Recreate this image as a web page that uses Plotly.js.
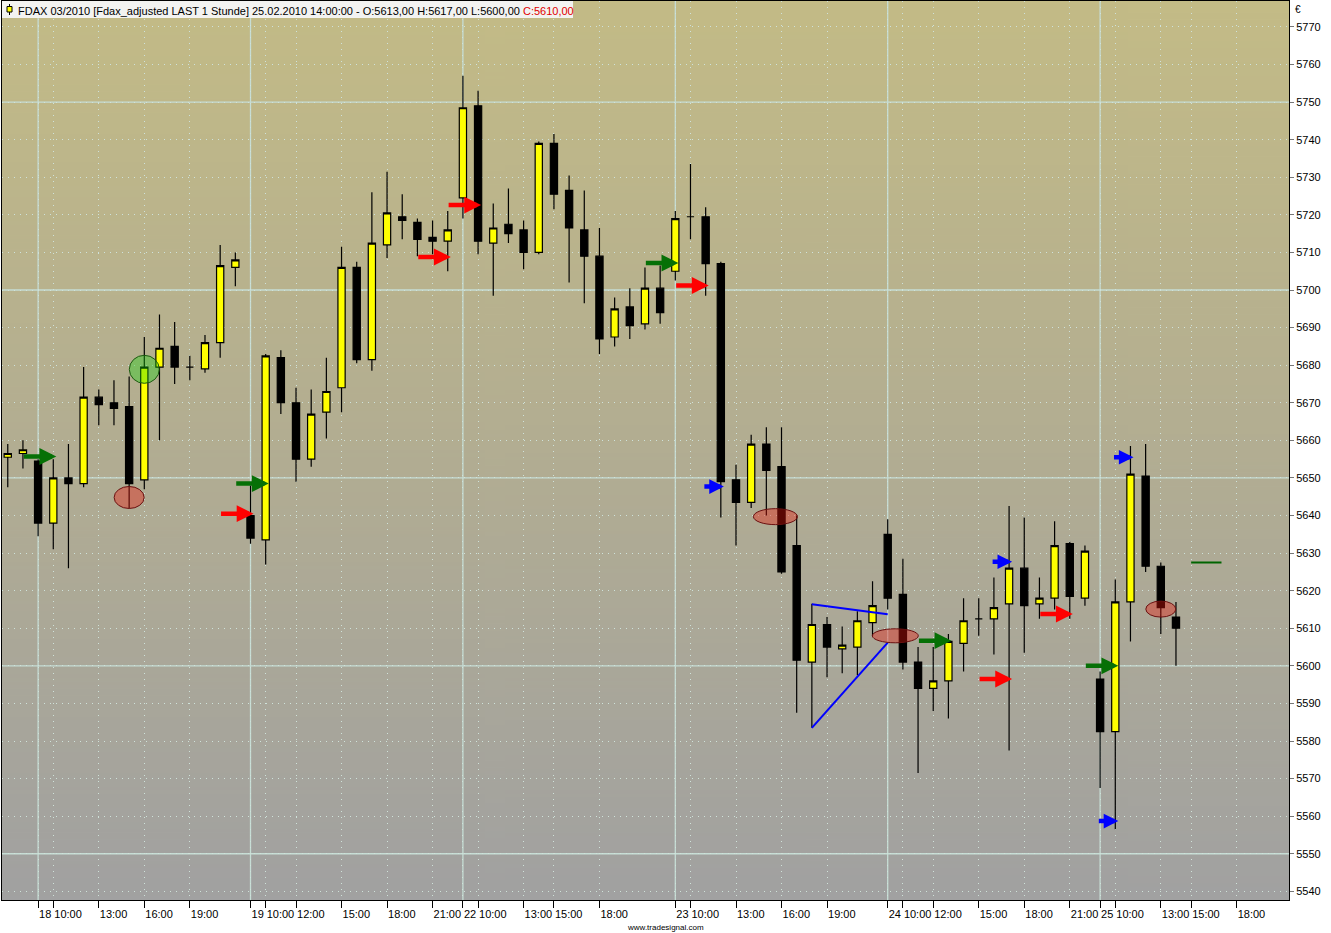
<!DOCTYPE html>
<html><head><meta charset="utf-8">
<script src="https://cdn.plot.ly/plotly-3.0.1.min.js"></script>
<style>html,body{margin:0;padding:0;background:#fff}#chart{width:1331px;height:933px}</style>
</head><body><div id="chart"></div>
<script>
// ---- FDAX 03/2010, 1-hour bars, 17.02.2010 21:00 .. 25.02.2010 14:00 ----
const openP  = [5655.5,5656.5,5654.5,5638,5650,5648.5,5671.5,5670,5669,5649.5,5679.5,5685,5679.5,5679,5686,5706,
  5640,5633.5,5682,5670,5655,5667.5,5674,5706,5681.5,5712,5719.5,5718,5714,5713,
  5724.5,5749,5712.5,5717.5,5716,5710,5739,5726.5,5716,5709,5687.5,5695.5,5691,5700.5,
  5705,5719.5,5719.5,5707,5649.5,5643.5,5659,5653,5632,5601,5611,5604.5,5605,5611.5,
  5635,5619,5601,5594,5596,5606,5612.5,5612.5,5616.5,5626,5616.5,5618,5632.5,5618,
  5596.5,5582.5,5617,5650.5,5626.5,5613];
const highP  = [5659,5660,5655,5655,5659,5679.5,5673.5,5676,5677,5687.5,5693.5,5691.5,5682.5,5688,5712,5710,
  5648,5683,5684,5674,5673.5,5682,5711.5,5707.5,5726,5731.5,5725.5,5719,5718.5,5721,
  5757,5753,5723,5727,5718.5,5739.5,5741.5,5730.5,5726.5,5716.5,5698,5700.5,5706,5706.5,
  5721,5733.5,5722,5707.5,5653.5,5661.5,5663.5,5663.5,5640,5616.5,5613,5610.5,5614.5,5622.5,
  5639,5628.5,5605,5605,5608.5,5618,5618,5623.5,5642.5,5639.5,5623.5,5638.5,5633,5632,
  5598.5,5623,5658.5,5659,5627.5,5617];
const lowP   = [5647.5,5652.5,5634.5,5631,5626,5647.5,5664,5664,5642,5647,5660,5675,5676,5678,5682,5701,
  5632.5,5627,5667,5649,5653,5660.5,5667.5,5680.5,5678.5,5708.5,5713.5,5709,5709.5,5705,
  5719,5709.5,5698.5,5712.5,5705.5,5709.5,5721.5,5702,5696.5,5683,5685,5687,5689.5,5691,
  5702.5,5713.5,5698.5,5639.5,5632,5642,5640,5624.5,5587.5,5583.5,5597,5598,5597.5,5608,
  5615,5599,5571.5,5588,5586,5598.5,5608,5603,5577.5,5603.5,5612.5,5615,5612.5,5616,
  5567.5,5556.5,5606.5,5625,5608.5,5600];
const closeP = [5656.5,5657.5,5638,5650,5648.5,5671.5,5669.5,5668.5,5648.5,5679.5,5684.5,5679.5,5679.5,5686,5706.5,5708,
  5634,5682.5,5670,5655,5667,5673,5706,5681.5,5712.5,5720.5,5718.5,5713.5,5713,5716,
  5748.5,5713,5716.5,5715,5710,5739,5725.5,5716.5,5709,5687,5695,5690.5,5700.5,5694,
  5719,5719.5,5707,5649,5643.5,5659,5652,5625,5601.5,5611,5605,5605.5,5612,5616,
  5618,5601,5594,5596,5606.5,5612,5612.5,5615.5,5626,5616,5618,5632,5618.5,5630.5,
  5582.5,5617,5651,5626.5,5615.5,5610];

// time axis (bar index -> label)
const tickIdx  = [2,3,6,9,12, 16,17,19,22,25,28, 30,31,34,36,39, 44,45,48,51,54, 58,59,61,64,67,70, 72,73,76,78,81];
const tickText = ['18','10:00','13:00','16:00','19:00', '19','10:00','12:00','15:00','18:00','21:00',
  '22','10:00','13:00','15:00','18:00', '23','10:00','13:00','16:00','19:00',
  '24','10:00','12:00','15:00','18:00','21:00', '25','10:00','13:00','15:00','18:00'];
const dayStartIdx = [2,16,30,44,58,72];
const majorLevels = [5550,5600,5650,5700,5750];

// signals drawn on the chart (bar index, price)
const greenArrowBar = [3,17,44,62,73];
const greenArrowPrice = [5655.7,5648.5,5707.2,5606.7,5600];
const redArrowBar = [16,29,31,46,66,70];
const redArrowPrice = [5640.5,5708.8,5722.6,5701.2,5596.5,5613.8];
const blueArrowBar = [47,66,74,73];
const blueArrowPrice = [5647.7,5627.7,5655.5,5558.7];
const redEllipseBar = [8,50.6,58.5,76];
const redEllipsePrice = [5644.8,5639.7,5608,5615.1];
const greenCircleBar = [9];
const greenCirclePrice = [5678.9];
const trendStartBar = [53,53], trendStartPrice = [5616.4,5583.5];
const trendEndBar = [58,58], trendEndPrice = [5613.7,5606.2];
const targetStartBar = 78, targetEndBar = 80, targetPrice = 5627.5;

// ---- styles ----
const redEllipseSize = [[30,22],[44,16],[46,14],[30,16]];
const greenCircleSize = [[30,28]];
const FONT = 'Liberation Sans, Arial, sans-serif';
const gridSolid = '#c6ddd5';
const gridDot = '#cfe2da';

const x = openP.map((_, i) => i);

// background gradient image
const cv = document.createElement('canvas'); cv.width = 4; cv.height = 512;
const g2 = cv.getContext('2d');
const grd = g2.createLinearGradient(0, 0, 0, 512);
grd.addColorStop(0, '#c3bb86'); grd.addColorStop(0.5, '#b2ad92'); grd.addColorStop(1, '#a1a1a1');
g2.fillStyle = grd; g2.fillRect(0, 0, 4, 512);
const bgURL = cv.toDataURL('image/png');

const traces = [
  {type:'candlestick', x:x, open:openP, high:highP, low:lowP, close:closeP,
   increasing:{fillcolor:'#ffff00', line:{color:'#000000', width:1.2}},
   decreasing:{fillcolor:'#000000', line:{color:'#000000', width:1.2}},
   whiskerwidth:0, hoverinfo:'skip', showlegend:false},
  {type:'scatter', mode:'lines', showlegend:false, hoverinfo:'skip',
   x:[trendStartBar[0],trendEndBar[0],null,trendStartBar[1],trendEndBar[1]],
   y:[trendStartPrice[0],trendEndPrice[0],null,trendStartPrice[1],trendEndPrice[1]],
   line:{color:'#0000ff', width:2}},
  {type:'scatter', mode:'lines', showlegend:false, hoverinfo:'skip',
   x:[targetStartBar, targetEndBar], y:[targetPrice, targetPrice],
   line:{color:'#006400', width:2}}
];

const shapes = [];
dayStartIdx.forEach(v => shapes.push({type:'line', xref:'x', yref:'paper', x0:v, x1:v, y0:0, y1:1,
  layer:'below', line:{color:gridSolid, width:1.3}}));
majorLevels.forEach(v => shapes.push({type:'line', xref:'paper', yref:'y', x0:0, x1:1, y0:v, y1:v,
  layer:'below', line:{color:gridSolid, width:1.3}}));
function ellipse(bx, py, sz, fill, stroke) {
  return {type:'circle', xref:'x', yref:'y', xsizemode:'pixel', ysizemode:'pixel',
    xanchor:bx, yanchor:py, x0:-sz[0]/2, x1:sz[0]/2, y0:-sz[1]/2, y1:sz[1]/2,
    fillcolor:fill, line:{color:stroke, width:1}, layer:'above'};
}
redEllipseBar.forEach((b, i) => shapes.push(ellipse(b, redEllipsePrice[i], redEllipseSize[i], 'rgba(235,20,10,0.38)', '#6a1010')));
greenCircleBar.forEach((b, i) => shapes.push(ellipse(b, greenCirclePrice[i], greenCircleSize[i], 'rgba(20,210,10,0.36)', '#1d5a10')));
// title box and icon
shapes.push({type:'rect', xref:'paper', yref:'paper', xsizemode:'pixel', ysizemode:'pixel', xanchor:0, yanchor:1,
  x0:0, x1:571, y0:-17, y1:0, fillcolor:'#f3f3f1', line:{width:0}, layer:'above'});
shapes.push({type:'line', xref:'paper', yref:'paper', xsizemode:'pixel', ysizemode:'pixel', xanchor:0, yanchor:1,
  x0:7.5, x1:7.5, y0:-3, y1:-14, line:{color:'#000', width:1}, layer:'above'});
shapes.push({type:'rect', xref:'paper', yref:'paper', xsizemode:'pixel', ysizemode:'pixel', xanchor:0, yanchor:1,
  x0:5, x1:10, y0:-5.5, y1:-11, fillcolor:'#ffff00', line:{color:'#000', width:1}, layer:'above'});

const annotations = [];
function arrow(b, p, color, len, w, s) {
  annotations.push({xref:'x', yref:'y', x:b + 0.2, y:p, ax:-len, ay:0, text:'', showarrow:true,
    arrowhead:2, arrowsize:s, arrowwidth:w, arrowcolor:color, standoff:0});
}
greenArrowBar.forEach((b, i) => arrow(b, greenArrowPrice[i], '#067006', 34, 4.5, 0.75));
redArrowBar.forEach((b, i) => arrow(b, redArrowPrice[i], '#ff0000', 34, 4.5, 0.75));
blueArrowBar.forEach((b, i) => arrow(b, blueArrowPrice[i], '#0000ff', 21, 4.5, 0.65));
annotations.push({xref:'paper', yref:'paper', x:0, y:1, xshift:14, yshift:-2, xanchor:'left', yanchor:'top',
  showarrow:false, font:{family:FONT, size:11, color:'#000'},
  text:'FDAX 03/2010 [Fdax_adjusted LAST 1 Stunde] 25.02.2010 14:00:00 - O:5613,00 H:5617,00 L:5600,00 <span style="color:#e00000">C:5610,00</span>'});
annotations.push({xref:'paper', yref:'paper', x:1, y:1, xshift:4, yshift:-1, xanchor:'left', yanchor:'top',
  showarrow:false, font:{family:FONT, size:10, color:'#000'}, text:'€'});
annotations.push({xref:'paper', yref:'paper', x:0.5156, y:0, yshift:-27, xanchor:'center', yanchor:'middle',
  showarrow:false, font:{family:FONT, size:8, color:'#000'}, text:'www.tradesignal.com'});

const layout = {
  width:1331, height:933,
  margin:{l:2, r:42, t:1, b:33, pad:0},
  paper_bgcolor:'#ffffff', plot_bgcolor:'rgba(0,0,0,0)',
  showlegend:false, boxgap:0.32,
  images:[{source:bgURL, xref:'paper', yref:'paper', x:0, y:1, sizex:1, sizey:1,
    sizing:'stretch', xanchor:'left', yanchor:'top', layer:'below'}],
  xaxis:{type:'linear', range:[-0.38, 84.45], tickvals:tickIdx, ticktext:tickText, tickangle:0,
    ticks:'outside', ticklen:7, tickcolor:'#000', tickwidth:1, ticklabelposition:'outside right',
    ticklabelstandoff:4,
    tickfont:{family:FONT, size:11, color:'#000'},
    showgrid:true, gridcolor:gridDot, griddash:'1px,5px', gridwidth:1,
    showline:true, linecolor:'#000', linewidth:1, mirror:true, zeroline:false,
    rangeslider:{visible:false}, fixedrange:true},
  yaxis:{range:[5537.7, 5776.9], side:'right', dtick:10, tick0:5540,
    ticks:'outside', ticklen:4, tickcolor:'#777', tickwidth:1,
    tickfont:{family:FONT, size:11, color:'#000'},
    showgrid:true, gridcolor:gridDot, griddash:'1px,5px', gridwidth:1,
    showline:true, linecolor:'#000', linewidth:1, mirror:true, zeroline:false, fixedrange:true},
  shapes:shapes, annotations:annotations
};
Plotly.newPlot('chart', traces, layout, {displayModeBar:false, staticPlot:true});
</script></body></html>
